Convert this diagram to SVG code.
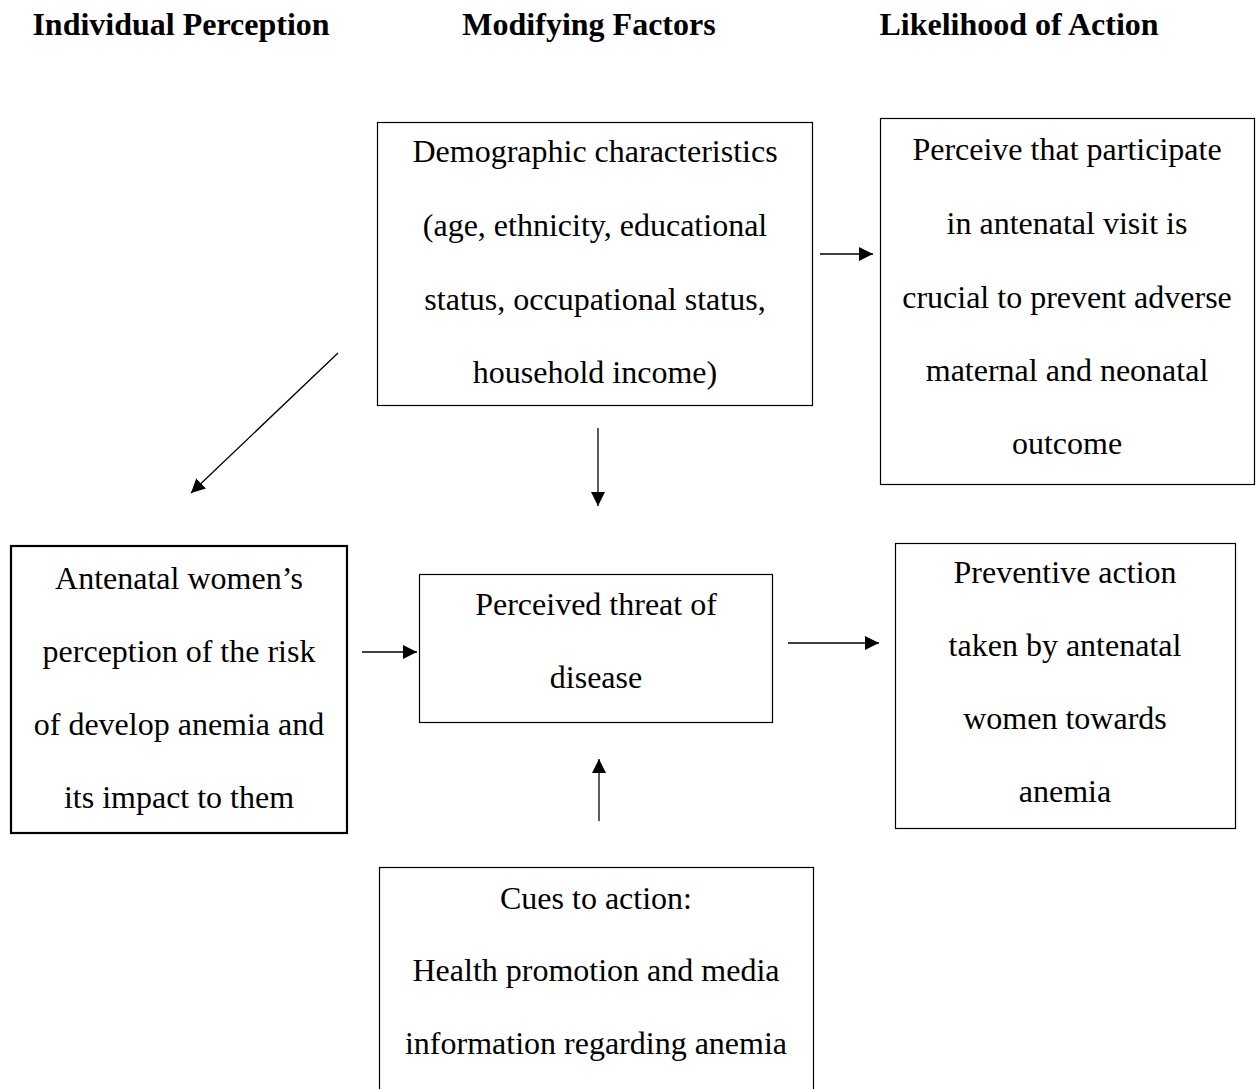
<svg xmlns="http://www.w3.org/2000/svg" width="1259" height="1089" viewBox="0 0 1259 1089">
<style>
.h{font-family:"Liberation Serif","Times New Roman",serif;font-weight:bold;font-size:32px;fill:#000;text-anchor:middle}
.t{font-family:"Liberation Serif","Times New Roman",serif;font-size:32px;fill:#000;text-anchor:middle}
.b{fill:#fff;stroke:#000;stroke-width:1.2}
.c{stroke:#000;stroke-width:1.3;fill:none;marker-end:url(#ah)}
</style>
<defs>
<marker id="ah" viewBox="0 0 10 10" refX="10" refY="5" markerWidth="14" markerHeight="14" markerUnits="userSpaceOnUse" orient="auto">
<path d="M0,0 L10,5 L0,10 Z" fill="#000"/>
</marker>
</defs>
<rect width="1259" height="1089" fill="#fff"/>
<g id="headers">
<text class="h" x="181" y="35">Individual Perception</text>
<text class="h" x="589" y="35">Modifying Factors</text>
<text class="h" x="1019" y="35">Likelihood of Action</text>
</g>
<g id="demographic">
<rect class="b" x="377.5" y="122.5" width="435" height="283"/>
<text class="t" x="595" y="162">Demographic characteristics</text>
<text class="t" x="595" y="236">(age, ethnicity, educational</text>
<text class="t" x="595" y="310">status, occupational status,</text>
<text class="t" x="595" y="383">household income)</text>
</g>
<g id="perceive">
<rect class="b" x="880.5" y="118.5" width="374" height="366"/>
<text class="t" x="1067" y="160">Perceive that participate</text>
<text class="t" x="1067" y="234">in antenatal visit is</text>
<text class="t" x="1067" y="308">crucial to prevent adverse</text>
<text class="t" x="1067" y="381">maternal and neonatal</text>
<text class="t" x="1067" y="454">outcome</text>
</g>
<g id="antenatal">
<rect x="11" y="546" width="336" height="287" fill="#fff" stroke="#000" stroke-width="2.2"/>
<text class="t" x="179" y="589">Antenatal women’s</text>
<text class="t" x="179" y="662">perception of the risk</text>
<text class="t" x="179" y="735">of develop anemia and</text>
<text class="t" x="179" y="808">its impact to them</text>
</g>
<g id="threat">
<rect class="b" x="419.5" y="574.5" width="353" height="148"/>
<text class="t" x="596" y="615">Perceived threat of</text>
<text class="t" x="596" y="688">disease</text>
</g>
<g id="preventive">
<rect class="b" x="895.5" y="543.5" width="340" height="285"/>
<text class="t" x="1065" y="583">Preventive action</text>
<text class="t" x="1065" y="656">taken by antenatal</text>
<text class="t" x="1065" y="729">women towards</text>
<text class="t" x="1065" y="802">anemia</text>
</g>
<g id="cues">
<rect class="b" x="379.5" y="867.5" width="434" height="230"/>
<text class="t" x="596" y="909">Cues to action:</text>
<text class="t" x="596" y="981">Health promotion and media</text>
<text class="t" x="596" y="1054">information regarding anemia</text>
</g>
<g id="connectors">
<line class="c" x1="338" y1="353" x2="191" y2="493"/>
<line class="c" x1="820" y1="254" x2="873" y2="254"/>
<line class="c" x1="598" y1="428" x2="598" y2="506"/>
<line class="c" x1="362" y1="652" x2="417" y2="652"/>
<line class="c" x1="788" y1="643" x2="879" y2="643"/>
<line class="c" x1="599" y1="821" x2="599" y2="759"/>
</g>
</svg>
